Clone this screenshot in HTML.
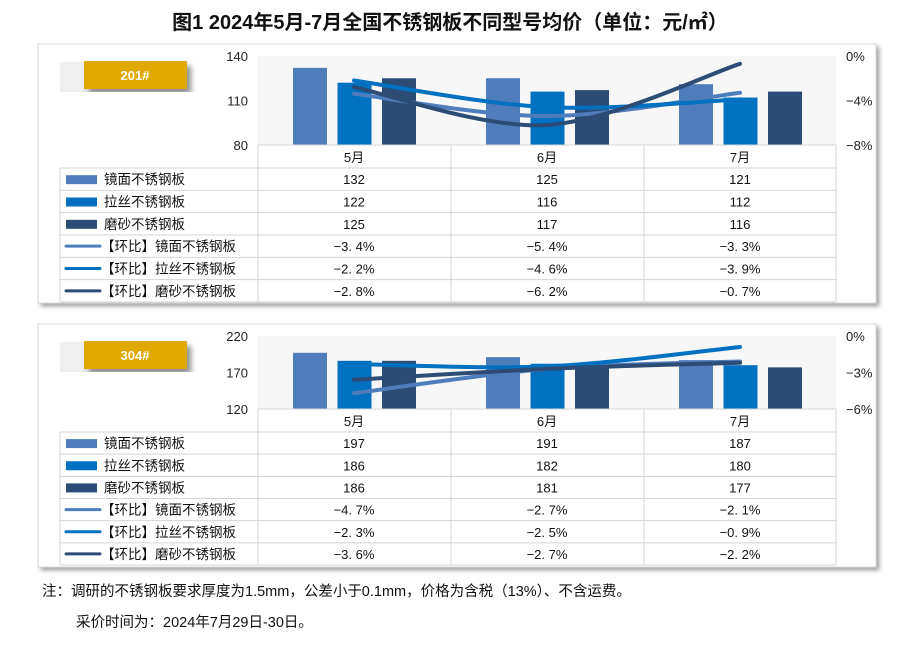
<!DOCTYPE html>
<html><head><meta charset="utf-8"><style>
body{margin:0;background:#fff;}
svg text{font-family:"Liberation Sans","Noto Sans CJK SC",sans-serif;}
</style></head><body>
<svg id="s" width="900" height="661" xmlns="http://www.w3.org/2000/svg"></svg>
<script>
const s=document.getElementById('s');let h='';
h+='<defs><filter id="sh" x="-5%" y="-5%" width="115%" height="115%"><feDropShadow dx="3" dy="3" stdDeviation="2" flood-color="#000" flood-opacity="0.35"/></filter><filter id="sh2"><feDropShadow dx="4" dy="5" stdDeviation="3" flood-color="#000" flood-opacity="0.45"/></filter></defs>';
h+='<text x="450" y="29" text-anchor="middle" font-size="20" font-weight="bold" fill="#111">图1  2024年5月-7月全国不锈钢板不同型号均价（单位：元/㎡）</text>';
const C=['#4f7dbb','#0070c0','#2c4c75'];
const names=['镜面不锈钢板','拉丝不锈钢板','磨砂不锈钢板'];
const cx=[354,547,740];
function smooth(p){let d=`M${p[0][0]},${p[0][1]}`;
 const P=[p[0],...p,p[2]];
 for(let i=1;i<3;i++){const a=P[i-1],b=P[i],c=P[i+1],e=P[i+2];
  d+=` C${b[0]+(c[0]-a[0])/6},${b[1]+(c[1]-a[1])/6} ${c[0]-(e[0]-b[0])/6},${c[1]-(e[1]-b[1])/6} ${c[0]},${c[1]}`;}
 return d;}
function panel(o){
 const {top,bot,pt,pb,tag,ly,ry,vals,pcts,vmin,vmax,pmax}=o;
 h+=`<rect x="38" y="${top}" width="838" height="${bot-top}" fill="#fff" stroke="#d9d9d9" filter="url(#sh)"/>`;
 h+=`<rect x="60" y="${top+18}" width="26" height="30" fill="#efefef"/>`;
 h+=`<rect x="84" y="${top+17}" width="103" height="28" fill="#e0a800" filter="url(#sh2)"/>`;
 h+=`<text x="135" y="${top+36}" text-anchor="middle" font-size="13" font-weight="bold" fill="#fff">${tag}</text>`;
 h+=`<rect x="258" y="${pt}" width="578" height="${pb-pt}" fill="#f7f7f7"/>`;
 ly.forEach((l,i)=>{const y=pt+(pb-pt)*i/2;h+=`<text x="248" y="${y+5}" text-anchor="end" font-size="13" fill="#222">${l}</text>`;});
 ry.forEach((l,i)=>{const y=pt+(pb-pt)*i/2;h+=`<text x="846" y="${y+5}" font-size="13" fill="#222">${l}</text>`;});
 const k=(pb-pt)/(vmax-vmin);
 for(let m=0;m<3;m++)for(let j=0;j<3;j++){const x=cx[m]-61+j*44.5;const y=pb-(vals[j][m]-vmin)*k;
  h+=`<rect x="${x}" y="${y}" width="34" height="${pb-y}" fill="${C[j]}"/>`;}
 const kp=(pb-pt)/pmax;
 for(let j=0;j<3;j++){const p=cx.map((x,m)=>[x,pt-pcts[j][m]*kp]);
  h+=`<path d="${smooth(p)}" fill="none" stroke="${C[j]}" stroke-width="4" stroke-linecap="round"/>`;}
 // table
 const rh=(o.tb-pb-23)/6;const ys=[pb,pb+23];for(let i=1;i<=6;i++)ys.push(pb+23+rh*i);
 const g='#d4d4d4';
 h+=`<line x1="258" y1="${pb}" x2="836" y2="${pb}" stroke="${g}"/>`;
 for(let i=1;i<ys.length;i++)h+=`<line x1="60" y1="${ys[i]}" x2="836" y2="${ys[i]}" stroke="${g}"/>`;
 [258,451,644,836].forEach(x=>h+=`<line x1="${x}" y1="${pb}" x2="${x}" y2="${o.tb}" stroke="${g}"/>`);
 h+=`<line x1="60" y1="${ys[1]}" x2="60" y2="${o.tb}" stroke="${g}"/>`;
 ['5月','6月','7月'].forEach((t,m)=>h+=`<text x="${cx[m]}" y="${pb+17}" text-anchor="middle" font-size="13" fill="#111">${t}</text>`);
 for(let r=0;r<6;r++){const y0=ys[r+1],yc=y0+rh/2;const j=r%3;
  if(r<3){h+=`<rect x="66" y="${yc-4}" width="31" height="9" fill="${C[j]}"/><text x="104" y="${yc+5}" font-size="13.5" fill="#111">${names[j]}</text>`;}
  else{h+=`<line x1="66" y1="${yc}" x2="100" y2="${yc}" stroke="${C[j]}" stroke-width="3" stroke-linecap="round"/><text x="101" y="${yc+5}" font-size="13.5" fill="#111">【环比】${names[j]}</text>`;}
  for(let m=0;m<3;m++){const t=r<3?vals[j][m]:('−'+Math.abs(pcts[j][m]).toFixed(1).replace('.','. ')+'%');
   h+=`<text x="${cx[m]}" y="${yc+5}" text-anchor="middle" font-size="13" fill="#111">${t}</text>`;}
 }
}
panel({top:44,bot:303,pt:56,pb:145,tb:302,tag:'201#',ly:['140','110','80'],ry:['0%','−4%','−8%'],vmin:80,vmax:140,pmax:8,
 vals:[[132,125,121],[122,116,112],[125,117,116]],pcts:[[-3.4,-5.4,-3.3],[-2.2,-4.6,-3.9],[-2.8,-6.2,-0.7]]});
panel({top:324,bot:567,pt:336,pb:409,tb:565,tag:'304#',ly:['220','170','120'],ry:['0%','−3%','−6%'],vmin:120,vmax:220,pmax:6,
 vals:[[197,191,187],[186,182,180],[186,181,177]],pcts:[[-4.7,-2.7,-2.1],[-2.3,-2.5,-0.9],[-3.6,-2.7,-2.2]]});
h+='<text x="42" y="596" font-size="14.5" fill="#111">注：调研的不锈钢板要求厚度为1.5mm，公差小于0.1mm，价格为含税（13%）、不含运费。</text>';
h+='<text x="76" y="627" font-size="14.5" fill="#111">采价时间为：2024年7月29日-30日。</text>';
s.innerHTML=h;
</script></body></html>
